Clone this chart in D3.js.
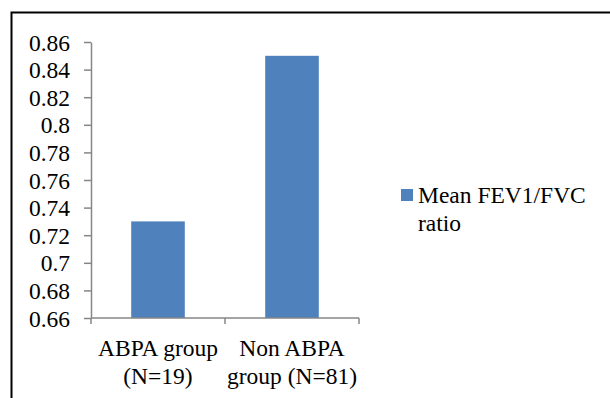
<!DOCTYPE html>
<html>
<head>
<meta charset="utf-8">
<script src="https://cdn.jsdelivr.net/npm/d3@7"></script>
<style>
  html, body { margin: 0; padding: 0; background: #fff; }
  svg { display: block; }
</style>
</head>
<body>
<svg id="chart" width="610" height="398"></svg>
<script>
// Mean FEV1/FVC ratio by patient group
const categories = [["ABPA group", "(N=19)"], ["Non ABPA", "group (N=81)"]];
const values = [0.73, 0.85];
const yTicks = [0.66, 0.68, 0.7, 0.72, 0.74, 0.76, 0.78, 0.8, 0.82, 0.84, 0.86];
const seriesName = ["Mean FEV1/FVC", "ratio"];

const svg = d3.select("#chart");
const serif = "Liberation Serif";
const fontSize = 23.5;
const axisColor = "#868686";
const barColor = "#4F81BD";

// outer frame (runs past the right and bottom edges)
svg.append("rect")
  .attr("x", 11.5).attr("y", 12.5)
  .attr("width", 640).attr("height", 420)
  .attr("fill", "none").attr("stroke", "#000").attr("stroke-width", 2);

const plot = { left: 91, right: 359, top: 42, bottom: 318 };

const x = d3.scaleBand()
  .domain(categories.map(d => d.join(" ")))
  .range([plot.left, plot.right])
  .paddingInner(0.6).paddingOuter(0.3);

const y = d3.scaleLinear().domain([0.66, 0.86]).range([plot.bottom, plot.top]);

// bars
svg.append("g").selectAll("rect")
  .data(values)
  .join("rect")
  .attr("x", (d, i) => x(categories[i].join(" ")))
  .attr("width", x.bandwidth())
  .attr("y", d => y(d))
  .attr("height", d => y(0.66) - y(d))
  .attr("fill", barColor);

// y axis
const yAxis = svg.append("g")
  .attr("transform", `translate(${plot.left},0)`)
  .call(d3.axisLeft(y).tickValues(yTicks).tickSize(7).tickSizeOuter(0)
    .tickFormat(d => String(+d.toFixed(2))));
yAxis.select(".domain").attr("stroke", axisColor).attr("stroke-width", 1.5);
yAxis.selectAll(".tick line").attr("stroke", axisColor).attr("stroke-width", 1.5);
yAxis.selectAll(".tick text")
  .attr("x", -21).attr("dy", "0.34em")
  .style("font-family", serif).style("font-size", fontSize + "px").attr("fill", "#000");

// x axis with ticks at category boundaries
const xAxisG = svg.append("g");
xAxisG.append("line")
  .attr("x1", plot.left).attr("x2", plot.right)
  .attr("y1", plot.bottom).attr("y2", plot.bottom)
  .attr("stroke", axisColor).attr("stroke-width", 1.5);
const step = x.step();
const boundaries = [plot.left, ...categories.map(d => x(d.join(" ")) + x.bandwidth() / 2 + step / 2)];
xAxisG.selectAll("line.tk")
  .data(boundaries)
  .join("line").attr("class", "tk")
  .attr("x1", d => d).attr("x2", d => d)
  .attr("y1", plot.bottom).attr("y2", plot.bottom + 6)
  .attr("stroke", axisColor).attr("stroke-width", 1.5);

// category labels (two lines each)
const labels = svg.append("g").selectAll("text")
  .data(categories)
  .join("text")
  .attr("text-anchor", "middle")
  .attr("fill", "#000")
  .style("font-family", serif)
  .style("font-size", fontSize + "px");
labels.each(function(d) {
  const cx = x(d.join(" ")) + x.bandwidth() / 2;
  const t = d3.select(this);
  d.forEach((line, j) => {
    t.append("tspan").attr("x", cx).attr("y", 356 + j * 28).text(line);
  });
});

// legend
const legend = svg.append("g");
legend.append("rect")
  .attr("x", 401).attr("y", 189).attr("width", 12).attr("height", 12)
  .attr("fill", barColor);
const lt = legend.append("text")
  .attr("fill", "#000")
  .style("font-family", serif)
  .style("font-size", fontSize + "px");
seriesName.forEach((line, j) => {
  lt.append("tspan").attr("x", 418).attr("y", 203 + j * 28).text(line);
});
</script>
</body>
</html>
